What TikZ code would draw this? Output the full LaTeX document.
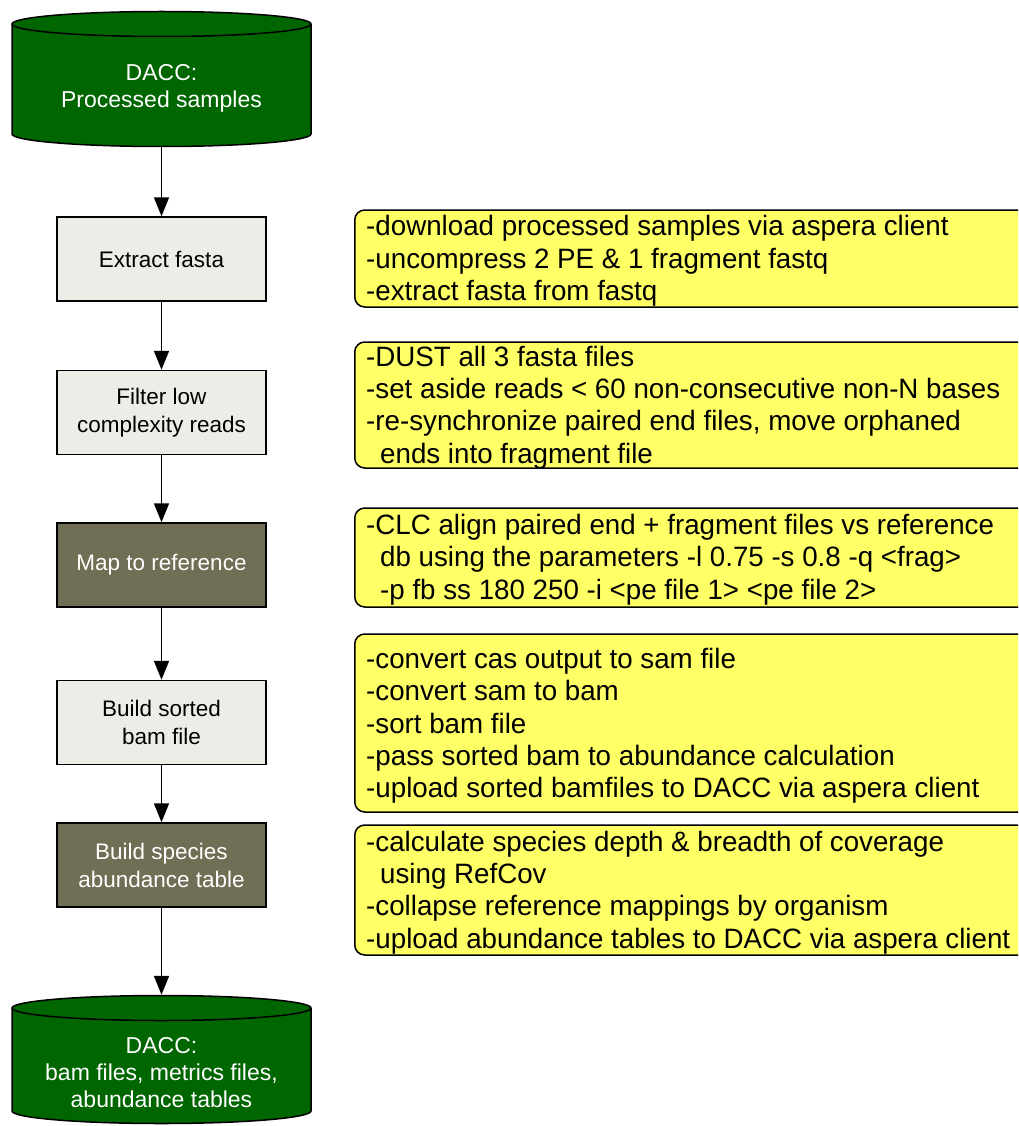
\documentclass[tikz,border=0pt]{standalone}
\usepackage{fontspec}
\setmainfont{Liberation Sans}
\newfontfamily\notefont[FakeStretch=0.99]{Liberation Sans}
\usetikzlibrary{arrows.meta}
\definecolor{dbgreen}{RGB}{0,102,0}
\definecolor{lightbox}{RGB}{237,237,232}
\definecolor{darkbox}{RGB}{112,111,85}
\definecolor{notefill}{RGB}{255,255,102}
\begin{document}
\begin{tikzpicture}[x=1pt,y=1pt,
  arr/.style={line width=1.8pt,-{Triangle[length=19pt,width=15pt]}},
  cylarea/.style={minimum width=299pt,inner sep=0pt},
  cyltext/.style={text=white,align=center,font=\fontsize{23}{27}\selectfont},
  stepbox/.style={draw=black,line width=1.5pt,minimum width=209pt,minimum height=84pt,align=center,inner sep=0pt,font=\fontsize{22.5}{28}\selectfont},
  lightstep/.style={stepbox,fill=lightbox,text=black},
  darkstep/.style={stepbox,fill=darkbox,text=white},
  notebox/.style={draw=black,fill=notefill,line width=1.5pt,rounded corners=10pt,anchor=west,minimum width=700pt,inner sep=0pt},
  notetext/.style={anchor=west,inner xsep=12pt,inner ysep=0pt,align=left,font=\notefont\fontsize{28}{32.3}\selectfont}
]
\clip (0,0) rectangle (1018,-1126);
\useasboundingbox (0,0) rectangle (1018,-1126);
\fill[white] (0,0) rectangle (1018,-1126);

% top cylinder
\fill[dbgreen] (12,-24) -- (12,-134) arc[start angle=180,end angle=360,x radius=149.5,y radius=12.5] -- (311,-24) arc[start angle=0,end angle=180,x radius=149.5,y radius=12.5] -- cycle;
\draw[line width=1.5pt] (12,-24) -- (12,-134) arc[start angle=180,end angle=360,x radius=149.5,y radius=12.5] -- (311,-24);
\draw[line width=1.5pt] (161.5,-24) ellipse[x radius=149.5,y radius=12.5];
\node[cylarea,minimum height=135pt] (db1) at (161.5,-79.5) {};
\node[cyltext] (db1t) at (161.5,-88) {DACC:\\Processed samples};

% bottom cylinder
\fill[dbgreen] (12,-1008) -- (12,-1111) arc[start angle=180,end angle=360,x radius=149.5,y radius=12.5] -- (311,-1008) arc[start angle=0,end angle=180,x radius=149.5,y radius=12.5] -- cycle;
\draw[line width=1.5pt] (12,-1008) -- (12,-1111) arc[start angle=180,end angle=360,x radius=149.5,y radius=12.5] -- (311,-1008);
\draw[line width=1.5pt] (161.5,-1008) ellipse[x radius=149.5,y radius=12.5];
\node[cylarea,minimum height=129pt] (db2) at (161.5,-1059.5) {};
\node[cyltext] (db2t) at (161.5,-1072.5) {DACC:\\bam files, metrics files,\\abundance tables};

% steps
\node[lightstep] (s1) at (161.5,-259) {Extract fasta};
\node[lightstep] (s2) at (161.5,-412.5) {Filter low\\complexity reads};
\node[darkstep] (s3) at (161.5,-565) {Map to reference};
\node[lightstep] (s4) at (161.5,-722.5) {Build sorted\\bam file};
\node[darkstep] (s5) at (161.5,-865) {Build species\\abundance table};

% connectors
\draw[arr] (db1) -- (s1);
\draw[arr] (s1) -- (s2);
\draw[arr] (s2) -- (s3);
\draw[arr] (s3) -- (s4);
\draw[arr] (s4) -- (s5);
\draw[arr] (s5) -- (db2);

% notes
\node[notebox,minimum height=97pt] (n1) at (354,-258.5) {};
\node[notetext] (n1t) at (354,-261) {-download processed samples via aspera client\\-uncompress 2 PE \& 1 fragment fastq\\-extract fasta from fastq};
\node[notebox,minimum height=126pt] (n2) at (354,-405) {};
\node[notetext] (n2t) at (354,-407.5) {-DUST all 3 fasta files\\-set aside reads < 60 non-consecutive non-N bases\\-re-synchronize paired end files, move orphaned\\\hspace*{14pt}ends into fragment file};
\node[notebox,minimum height=99pt] (n3) at (354,-557.5) {};
\node[notetext] (n3t) at (354,-559.5) {-CLC align paired end + fragment files vs reference\\\hspace*{14pt}db using the parameters -l 0.75 -s 0.8 -q <frag>\\\hspace*{14pt}-p fb ss 180 250 -i <pe file 1> <pe file 2>};
\node[notebox,minimum height=178pt] (n4) at (354,-723) {};
\node[notetext] (n4t) at (354,-726) {-convert cas output to sam file\\-convert sam to bam\\-sort bam file\\-pass sorted bam to abundance calculation\\-upload sorted bamfiles to DACC via aspera client};
\node[notebox,minimum height=130pt] (n5) at (354,-890) {};
\node[notetext] (n5t) at (354,-892.5) {-calculate species depth \& breadth of coverage\\\hspace*{14pt}using RefCov\\-collapse reference mappings by organism\\-upload abundance tables to DACC via aspera client};
\end{tikzpicture}
\end{document}
